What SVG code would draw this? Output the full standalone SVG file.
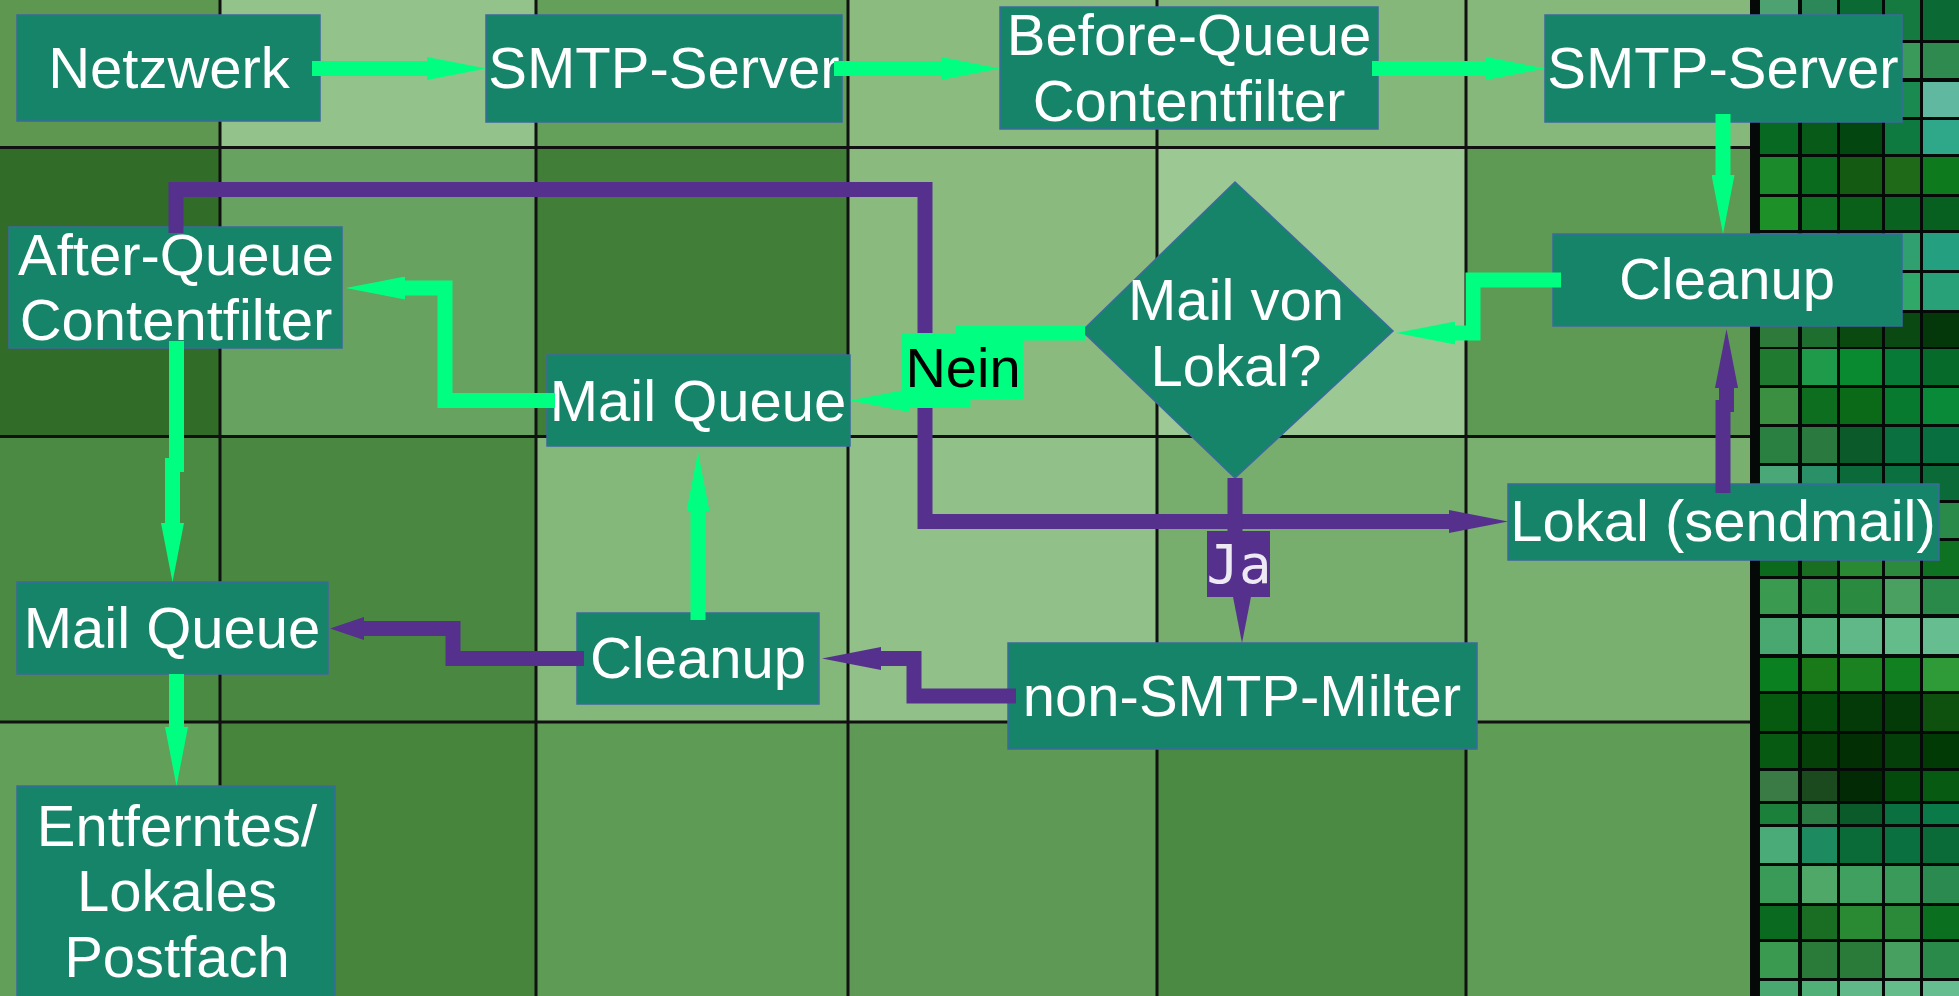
<svg xmlns="http://www.w3.org/2000/svg" width="1959" height="996" viewBox="0 0 1959 996">
<style>
.node{fill:#168469;stroke:#3b6aa0;stroke-width:1.5}
.t{font-family:"Liberation Sans",Arial,sans-serif;font-size:58px;fill:#ffffff;text-anchor:middle}
.g{fill:none;stroke:#00ff80;stroke-width:15;stroke-linejoin:miter;stroke-linecap:butt}
.p{fill:none;stroke:#55308d;stroke-width:15;stroke-linejoin:miter;stroke-linecap:butt}
.gl{stroke:#111;stroke-width:3}
</style>
<defs>
<marker id="gh" markerUnits="userSpaceOnUse" viewBox="0 0 59 23" markerWidth="59" markerHeight="23" refX="1" refY="11.5" orient="auto"><path d="M0,0 L59,11.5 L0,23 Z" fill="#00ff80"/></marker>
<marker id="ph" markerUnits="userSpaceOnUse" viewBox="0 0 59 23" markerWidth="59" markerHeight="23" refX="1" refY="11.5" orient="auto"><path d="M0,0 L59,11.5 L0,23 Z" fill="#55308d"/></marker>
<marker id="phs" markerUnits="userSpaceOnUse" viewBox="0 0 34 23" markerWidth="34" markerHeight="23" refX="1" refY="11.5" orient="auto"><path d="M0,0 L34,11.5 L0,23 Z" fill="#55308d"/></marker>
</defs>
<g id="background">
<rect x="0" y="0" width="220" height="147" fill="#5e9750"/>
<rect x="220" y="0" width="316" height="147" fill="#93c28b"/>
<rect x="536" y="0" width="312" height="147" fill="#64a05a"/>
<rect x="848" y="0" width="309" height="147" fill="#8bbb7f"/>
<rect x="1157" y="0" width="309" height="147" fill="#86b77a"/>
<rect x="1466" y="0" width="287" height="147" fill="#87b87b"/>
<rect x="0" y="147" width="220" height="289" fill="#316d28"/>
<rect x="220" y="147" width="316" height="289" fill="#68a260"/>
<rect x="536" y="147" width="312" height="289" fill="#417f38"/>
<rect x="848" y="147" width="309" height="289" fill="#8aba7e"/>
<rect x="1157" y="147" width="309" height="289" fill="#9cc893"/>
<rect x="1466" y="147" width="287" height="289" fill="#5e9a54"/>
<rect x="0" y="436" width="220" height="286" fill="#4b8a42"/>
<rect x="220" y="436" width="316" height="286" fill="#4a8841"/>
<rect x="536" y="436" width="312" height="286" fill="#84b87a"/>
<rect x="848" y="436" width="309" height="286" fill="#92c089"/>
<rect x="1157" y="436" width="309" height="286" fill="#77ad6d"/>
<rect x="1466" y="436" width="287" height="286" fill="#79af6f"/>
<rect x="0" y="722" width="220" height="274" fill="#62a05a"/>
<rect x="220" y="722" width="316" height="274" fill="#47853d"/>
<rect x="536" y="722" width="312" height="274" fill="#5e9b55"/>
<rect x="848" y="722" width="309" height="274" fill="#5e9a55"/>
<rect x="1157" y="722" width="309" height="274" fill="#4a8a42"/>
<rect x="1466" y="722" width="287" height="274" fill="#5f9d57"/>
<line class="gl" x1="220" y1="0" x2="220" y2="996"/>
<line class="gl" x1="536" y1="0" x2="536" y2="996"/>
<line class="gl" x1="848" y1="0" x2="848" y2="996"/>
<line class="gl" x1="1157" y1="0" x2="1157" y2="996"/>
<line class="gl" x1="1466" y1="0" x2="1466" y2="996"/>
<line class="gl" x1="0" y1="147.5" x2="1753" y2="147.5"/>
<line class="gl" x1="0" y1="436.5" x2="1753" y2="436.5"/>
<line class="gl" x1="0" y1="722" x2="1753" y2="722"/>
<rect x="1750" y="0" width="209" height="996" fill="#050a08"/>
<g id="mosaic">
<rect x="1760" y="0" width="38" height="40" fill="#4ea271"/><rect x="1802" y="0" width="35" height="40" fill="#2c8858"/><rect x="1840" y="0" width="42" height="40" fill="#0b6a33"/><rect x="1885" y="0" width="35" height="40" fill="#147a3f"/><rect x="1923" y="0" width="36" height="40" fill="#0b6a33"/>
<rect x="1760" y="43" width="38" height="35" fill="#2e8a52"/><rect x="1802" y="43" width="35" height="35" fill="#1a7a44"/><rect x="1840" y="43" width="42" height="35" fill="#0b6a33"/><rect x="1885" y="43" width="35" height="35" fill="#3a9a5a"/><rect x="1923" y="43" width="36" height="35" fill="#2e8a4e"/>
<rect x="1760" y="82" width="38" height="35" fill="#0e7a3a"/><rect x="1802" y="82" width="35" height="35" fill="#0c7038"/><rect x="1840" y="82" width="42" height="35" fill="#0a6030"/><rect x="1885" y="82" width="35" height="35" fill="#1a8a50"/><rect x="1923" y="82" width="36" height="35" fill="#60b8a0"/>
<rect x="1760" y="120" width="38" height="34" fill="#086a22"/><rect x="1802" y="120" width="35" height="34" fill="#075a18"/><rect x="1840" y="120" width="42" height="34" fill="#044610"/><rect x="1885" y="120" width="35" height="34" fill="#0e7a40"/><rect x="1923" y="120" width="36" height="34" fill="#2ea888"/>
<rect x="1760" y="157" width="38" height="37" fill="#1a8a2a"/><rect x="1802" y="157" width="35" height="37" fill="#0a6a1e"/><rect x="1840" y="157" width="42" height="37" fill="#145a12"/><rect x="1885" y="157" width="35" height="37" fill="#1e6a18"/><rect x="1923" y="157" width="36" height="37" fill="#0e7a1e"/>
<rect x="1760" y="197" width="38" height="33" fill="#1e9028"/><rect x="1802" y="197" width="35" height="33" fill="#0c7020"/><rect x="1840" y="197" width="42" height="33" fill="#0a6018"/><rect x="1885" y="197" width="35" height="33" fill="#0a6220"/><rect x="1923" y="197" width="36" height="33" fill="#086020"/>
<rect x="1760" y="233" width="38" height="37" fill="#2a9060"/><rect x="1802" y="233" width="35" height="37" fill="#1a8a58"/><rect x="1840" y="233" width="42" height="37" fill="#0a7a48"/><rect x="1885" y="233" width="35" height="37" fill="#30a070"/><rect x="1923" y="233" width="36" height="37" fill="#24a080"/>
<rect x="1760" y="273" width="38" height="37" fill="#2a9a60"/><rect x="1802" y="273" width="35" height="37" fill="#1a8a50"/><rect x="1840" y="273" width="42" height="37" fill="#0a7a48"/><rect x="1885" y="273" width="35" height="37" fill="#30a868"/><rect x="1923" y="273" width="36" height="37" fill="#28a078"/>
<rect x="1760" y="313" width="38" height="34" fill="#2e7a3a"/><rect x="1802" y="313" width="35" height="34" fill="#1e6e30"/><rect x="1840" y="313" width="42" height="34" fill="#0a4a10"/><rect x="1885" y="313" width="35" height="34" fill="#0a4a12"/><rect x="1923" y="313" width="36" height="34" fill="#04380a"/>
<rect x="1760" y="349" width="38" height="36" fill="#207a30"/><rect x="1802" y="349" width="35" height="36" fill="#1e9a4a"/><rect x="1840" y="349" width="42" height="36" fill="#0a8a30"/><rect x="1885" y="349" width="35" height="36" fill="#087a38"/><rect x="1923" y="349" width="36" height="36" fill="#066a2a"/>
<rect x="1760" y="388" width="38" height="36" fill="#3a9040"/><rect x="1802" y="388" width="35" height="36" fill="#0e6e20"/><rect x="1840" y="388" width="42" height="36" fill="#0a6a18"/><rect x="1885" y="388" width="35" height="36" fill="#087a30"/><rect x="1923" y="388" width="36" height="36" fill="#088a38"/>
<rect x="1760" y="427" width="38" height="36" fill="#2a8040"/><rect x="1802" y="427" width="35" height="36" fill="#2a7a40"/><rect x="1840" y="427" width="42" height="36" fill="#0a5a2a"/><rect x="1885" y="427" width="35" height="36" fill="#0a7040"/><rect x="1923" y="427" width="36" height="36" fill="#087040"/>
<rect x="1760" y="466" width="38" height="34" fill="#4aa878"/><rect x="1802" y="466" width="35" height="34" fill="#2a9068"/><rect x="1840" y="466" width="42" height="34" fill="#0a6a3a"/><rect x="1885" y="466" width="35" height="34" fill="#0a7040"/><rect x="1923" y="466" width="36" height="34" fill="#0a6a38"/>
<rect x="1760" y="503" width="38" height="35" fill="#2a8a4a"/><rect x="1802" y="503" width="35" height="35" fill="#1a7a3a"/><rect x="1840" y="503" width="42" height="35" fill="#1a7a3a"/><rect x="1885" y="503" width="35" height="35" fill="#2a8a4a"/><rect x="1923" y="503" width="36" height="35" fill="#2a8a4a"/>
<rect x="1760" y="541" width="38" height="35" fill="#0c6a1c"/><rect x="1802" y="541" width="35" height="35" fill="#1a6e22"/><rect x="1840" y="541" width="42" height="35" fill="#2a8a34"/><rect x="1885" y="541" width="35" height="35" fill="#2c8a3c"/><rect x="1923" y="541" width="36" height="35" fill="#0e7222"/>
<rect x="1760" y="579" width="38" height="35" fill="#3a9a50"/><rect x="1802" y="579" width="35" height="35" fill="#2a8a40"/><rect x="1840" y="579" width="42" height="35" fill="#2a8a40"/><rect x="1885" y="579" width="35" height="35" fill="#4aa060"/><rect x="1923" y="579" width="36" height="35" fill="#2a8a4a"/>
<rect x="1760" y="618" width="38" height="36" fill="#48a870"/><rect x="1802" y="618" width="35" height="36" fill="#50b078"/><rect x="1840" y="618" width="42" height="36" fill="#60b888"/><rect x="1885" y="618" width="35" height="36" fill="#64bc8a"/><rect x="1923" y="618" width="36" height="36" fill="#66be90"/>
<rect x="1760" y="658" width="38" height="33" fill="#0a8020"/><rect x="1802" y="658" width="35" height="33" fill="#1a7a1a"/><rect x="1840" y="658" width="42" height="33" fill="#1a8220"/><rect x="1885" y="658" width="35" height="33" fill="#108020"/><rect x="1923" y="658" width="36" height="33" fill="#2e9a38"/>
<rect x="1760" y="694" width="38" height="37" fill="#065a10"/><rect x="1802" y="694" width="35" height="37" fill="#044a0a"/><rect x="1840" y="694" width="42" height="37" fill="#043a08"/><rect x="1885" y="694" width="35" height="37" fill="#043a08"/><rect x="1923" y="694" width="36" height="37" fill="#0e500e"/>
<rect x="1760" y="734" width="38" height="34" fill="#065a12"/><rect x="1802" y="734" width="35" height="34" fill="#044008"/><rect x="1840" y="734" width="42" height="34" fill="#023004"/><rect x="1885" y="734" width="35" height="34" fill="#043e08"/><rect x="1923" y="734" width="36" height="34" fill="#023a06"/>
<rect x="1760" y="771" width="38" height="30" fill="#3a7a44"/><rect x="1802" y="771" width="35" height="30" fill="#1a4a1e"/><rect x="1840" y="771" width="42" height="30" fill="#022a04"/><rect x="1885" y="771" width="35" height="30" fill="#044a0c"/><rect x="1923" y="771" width="36" height="30" fill="#065a12"/>
<rect x="1760" y="804" width="38" height="20" fill="#1a803a"/><rect x="1802" y="804" width="35" height="20" fill="#2a7a44"/><rect x="1840" y="804" width="42" height="20" fill="#0a5a2a"/><rect x="1885" y="804" width="35" height="20" fill="#0a7040"/><rect x="1923" y="804" width="36" height="20" fill="#0a7a48"/>
<rect x="1760" y="827" width="38" height="36" fill="#4aaa78"/><rect x="1802" y="827" width="35" height="36" fill="#1e8a60"/><rect x="1840" y="827" width="42" height="36" fill="#0a6a38"/><rect x="1885" y="827" width="35" height="36" fill="#0a7040"/><rect x="1923" y="827" width="36" height="36" fill="#0a6a38"/>
<rect x="1760" y="866" width="38" height="37" fill="#3a9a58"/><rect x="1802" y="866" width="35" height="37" fill="#50a868"/><rect x="1840" y="866" width="42" height="37" fill="#40a060"/><rect x="1885" y="866" width="35" height="37" fill="#3a9a5a"/><rect x="1923" y="866" width="36" height="37" fill="#2a8a50"/>
<rect x="1760" y="906" width="38" height="33" fill="#0a6a20"/><rect x="1802" y="906" width="35" height="33" fill="#1a6e24"/><rect x="1840" y="906" width="42" height="33" fill="#2a8a34"/><rect x="1885" y="906" width="35" height="33" fill="#2a8a3a"/><rect x="1923" y="906" width="36" height="33" fill="#0a7020"/>
<rect x="1760" y="942" width="38" height="36" fill="#3a9a50"/><rect x="1802" y="942" width="35" height="36" fill="#2a7a3a"/><rect x="1840" y="942" width="42" height="36" fill="#2a7a3a"/><rect x="1885" y="942" width="35" height="36" fill="#48a060"/><rect x="1923" y="942" width="36" height="36" fill="#2a8a4a"/>
<rect x="1760" y="981" width="38" height="15" fill="#48a870"/><rect x="1802" y="981" width="35" height="15" fill="#50b078"/><rect x="1840" y="981" width="42" height="15" fill="#60b888"/><rect x="1885" y="981" width="35" height="15" fill="#64bc8a"/><rect x="1923" y="981" width="36" height="15" fill="#66be90"/>
</g>
</g>
<g id="n-netzwerk"><rect class="node" x="17" y="15" width="303" height="106"/><text class="t" x="169" y="88">Netzwerk</text></g>
<g id="n-smtp1"><rect class="node" x="486" y="15" width="356" height="107"/><text class="t" x="664" y="88">SMTP-Server</text></g>
<g id="n-beforequeue"><rect class="node" x="1000" y="7" width="378" height="122"/><text class="t" x="1189" y="55">Before-Queue</text><text class="t" x="1189" y="121">Contentfilter</text></g>
<g id="n-smtp2"><rect class="node" x="1545" y="15" width="357" height="107"/><text class="t" x="1723" y="88">SMTP-Server</text></g>
<g id="n-cleanup-r"><rect class="node" x="1553" y="234" width="349" height="92"/><text class="t" x="1727" y="299">Cleanup</text></g>
<g id="n-decision"><polygon class="node" points="1235,182 1393,331 1235,478 1082,331"/><text class="t" x="1236" y="320">Mail von</text><text class="t" x="1236" y="386">Lokal?</text></g>
<g id="n-afterqueue"><rect class="node" x="9" y="227" width="333" height="121"/><text class="t" x="176" y="275">After-Queue</text><text class="t" x="176" y="340">Contentfilter</text></g>
<g id="n-mailqueue-m"><rect class="node" x="547" y="355" width="303" height="91"/><text class="t" x="698" y="421">Mail Queue</text></g>
<g id="n-lokal"><rect class="node" x="1508" y="484" width="431" height="76"/><text class="t" x="1723" y="541">Lokal (sendmail)</text></g>
<g id="n-mailqueue-l"><rect class="node" x="17" y="582" width="311" height="92"/><text class="t" x="172" y="648">Mail Queue</text></g>
<g id="n-cleanup-m"><rect class="node" x="577" y="613" width="242" height="91"/><text class="t" x="698" y="678">Cleanup</text></g>
<g id="n-nonsmtp"><rect class="node" x="1008" y="643" width="469" height="106"/><text class="t" x="1242" y="716">non-SMTP-Milter</text></g>
<g id="n-postfach"><rect class="node" x="17" y="786" width="318" height="215"/><text class="t" x="177" y="846">Entferntes/</text><text class="t" x="177" y="911">Lokales</text><text class="t" x="177" y="977">Postfach</text></g>
<g id="connectors">
<path class="p" d="M176,233 V189.5 H925 V521.5 H1450" marker-end="url(#ph)"/>
<path class="p" d="M1235,478 V565 H1242 V585" marker-end="url(#ph)"/>
<path class="p" d="M1723,493 V400 M1726.5,412 V387" marker-end="url(#ph)"/>
<path class="p" d="M1016,696 H914 V658.5 H880" marker-end="url(#ph)"/>
<path class="p" d="M584,658.5 H453 V628.5 H363" marker-end="url(#phs)"/>
<path class="g" d="M312,68.5 H428" marker-end="url(#gh)"/>
<path class="g" d="M834,68.5 H942" marker-end="url(#gh)"/>
<path class="g" d="M1372,68.5 H1487" marker-end="url(#gh)"/>
<path class="g" d="M1723,114 V176" marker-end="url(#gh)"/>
<path class="g" d="M1561,280 H1473 V333 H1454" marker-end="url(#gh)"/>
<path class="g" d="M1085,333 H963 V400.5 H908" marker-end="url(#gh)"/>
<path class="g" d="M698,620 V510" marker-end="url(#gh)"/>
<path class="g" d="M555,400.5 H445 V288 H404" marker-end="url(#gh)"/>
<path class="g" d="M176.5,341 V472 M172.5,458 V524" marker-end="url(#gh)"/>
<path class="g" d="M176.5,674 V728" marker-end="url(#gh)"/>
</g>
<g id="labels">
<g id="l-nein"><rect x="902" y="333" width="121" height="66" fill="#00ff80"/><text x="963" y="387" font-family="'Liberation Sans',Arial,sans-serif" font-size="56" fill="#000000" text-anchor="middle">Nein</text></g>
<g id="l-ja"><rect x="1207" y="531" width="63" height="66" fill="#55308d"/><text x="1239" y="583" font-family="'DejaVu Sans Mono',monospace" font-size="54" fill="#eeeaf4" text-anchor="middle">Ja</text></g>
</g>
</svg>
